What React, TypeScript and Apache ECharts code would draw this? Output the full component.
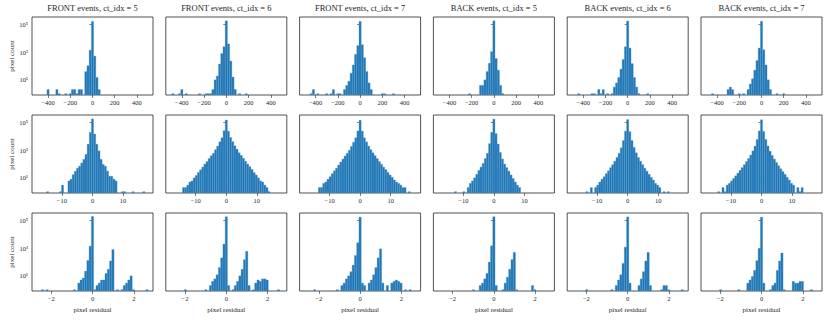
import React, { useEffect, useRef } from 'react';
import * as echarts from 'echarts';

// ---------------- data (bin centre, pixel count) ----------------
const panelTitles = [
  'FRONT events, ct_idx = 5',
  'FRONT events, ct_idx = 6',
  'FRONT events, ct_idx = 7',
  'BACK events, ct_idx = 5',
  'BACK events, ct_idx = 6',
  'BACK events, ct_idx = 7',
];

const binWidths = [20, 0.7, 0.11];
const xRanges = [[-544, 544], [-19.8, 19.8], [-2.93, 2.93]];
const xTicks = [[-400, -200, 0, 200, 400], [-10, 0, 10], [-2, 0, 2]];
const yRange = [0.8, 355000];
const yTicks = [10, 1000, 100000];

// row 1
const r1Front5 = [[-400,2],[-320,2],[-300,1],[-240,1],[-200,1],[-180,2],[-160,2],[-140,1],[-120,2],[-100,2],[-60,39],[-40,105],[-20,1400],[0,170000],[20,525],[40,15],[60,2]];
const r1Front6 = [[-480,1],[-420,1],[-400,2],[-360,1],[-240,1],[-180,1],[-160,1],[-140,1],[-120,2],[-100,10],[-80,19],[-60,140],[-40,800],[-20,2500],[0,186000],[20,4000],[40,230],[60,16],[80,2],[120,1],[180,1]];
const r1Front7 = [[-440,1],[-420,2],[-380,1],[-300,1],[-260,1],[-240,2],[-200,1],[-180,1],[-140,2],[-120,4],[-100,8],[-80,30],[-60,120],[-40,700],[-20,3000],[0,170000],[20,3500],[40,400],[60,40],[80,6],[100,2],[200,1],[220,1],[300,1]];
const r1Back5 = [[-220,1],[-120,4],[-100,4],[-80,10],[-60,40],[-40,160],[-20,1100],[0,186000],[20,350],[40,50],[60,4],[80,1]];
const r1Back6 = [[-440,1],[-320,1],[-300,1],[-260,2],[-240,1],[-220,2],[-180,1],[-140,1],[-120,3],[-100,6],[-80,15],[-60,60],[-40,300],[-20,2500],[0,180000],[20,2000],[40,150],[60,15],[80,3],[100,1],[180,1]];
const r1Back7 = [[-440,1],[-300,2],[-280,3],[-260,2],[-200,1],[-160,1],[-120,2],[-100,5],[-80,12],[-60,50],[-40,250],[-20,2000],[0,175000],[20,1500],[40,120],[60,10],[80,2],[140,1],[200,1]];

// row 2
const r2Front5 = [[-14.7,1],[-10.5,1],[-9.8,3],[-7.7,6],[-7.0,8],[-6.3,17],[-5.6,30],[-4.9,50],[-4.2,70],[-3.5,120],[-2.8,220],[-2.1,500],[-1.4,2750],[-0.7,19500],[0,186000],[0.7,15000],[1.4,2750],[2.1,900],[2.8,220],[3.5,93],[4.2,70],[4.9,31],[5.6,13],[6.3,13],[7.0,8],[7.7,6],[9.8,1],[10.5,1],[13.3,1],[16.8,1]];
const r2Front6 = [[-14.0,2],[-13.3,2],[-12.6,3],[-11.9,5],[-11.2,6],[-10.5,10],[-9.8,15],[-9.1,25],[-8.4,38],[-7.7,60],[-7.0,100],[-6.3,150],[-5.6,250],[-4.9,400],[-4.2,600],[-3.5,1100],[-2.8,2000],[-2.1,4000],[-1.4,8000],[-0.7,26000],[0,155000],[0.7,24000],[1.4,8500],[2.1,4200],[2.8,2100],[3.5,1200],[4.2,650],[4.9,420],[5.6,260],[6.3,160],[7.0,100],[7.7,65],[8.4,40],[9.1,24],[9.8,16],[10.5,10],[11.2,6],[11.9,5],[12.6,3],[13.3,2],[14.0,1]];
const r2Front7 = [[-13.3,2],[-12.6,2],[-11.9,4],[-11.2,5],[-10.5,8],[-9.8,12],[-9.1,20],[-8.4,32],[-7.7,50],[-7.0,85],[-6.3,140],[-5.6,230],[-4.9,380],[-4.2,600],[-3.5,1000],[-2.8,1900],[-2.1,3800],[-1.4,8000],[-0.7,25000],[0,150000],[0.7,24000],[1.4,8000],[2.1,4000],[2.8,2000],[3.5,1100],[4.2,650],[4.9,400],[5.6,250],[6.3,150],[7.0,95],[7.7,60],[8.4,40],[9.1,25],[9.8,16],[10.5,11],[11.2,7],[11.9,5],[12.6,4],[13.3,3],[14.0,2],[14.7,2],[16.1,1]];
const r2Back5 = [[-12.6,1],[-9.8,1],[-8.4,2],[-7.7,4],[-7.0,6],[-6.3,10],[-5.6,18],[-4.9,35],[-4.2,60],[-3.5,110],[-2.8,250],[-2.1,600],[-1.4,3000],[-0.7,20000],[0,180000],[0.7,16000],[1.4,2800],[2.1,700],[2.8,230],[3.5,100],[4.2,55],[4.9,30],[5.6,16],[6.3,9],[7.0,5],[7.7,3],[8.4,2]];
const r2Back6 = [[-13.3,1],[-11.9,2],[-10.5,2],[-9.8,3],[-9.1,5],[-8.4,8],[-7.7,12],[-7.0,20],[-6.3,32],[-5.6,55],[-4.9,90],[-4.2,160],[-3.5,300],[-2.8,600],[-2.1,1500],[-1.4,5000],[-0.7,24000],[0,165000],[0.7,22000],[1.4,5000],[2.1,1600],[2.8,650],[3.5,300],[4.2,160],[4.9,90],[5.6,50],[6.3,30],[7.0,18],[7.7,11],[8.4,7],[9.1,4],[9.8,3],[10.5,2],[11.9,1],[13.3,1]];
const r2Back7 = [[-14.0,1],[-12.6,2],[-11.9,1],[-11.2,3],[-10.5,4],[-9.8,6],[-9.1,9],[-8.4,14],[-7.7,22],[-7.0,35],[-6.3,55],[-5.6,90],[-4.9,150],[-4.2,250],[-3.5,450],[-2.8,900],[-2.1,2000],[-1.4,6000],[-0.7,25000],[0,160000],[0.7,23000],[1.4,6000],[2.1,2000],[2.8,850],[3.5,420],[4.2,230],[4.9,130],[5.6,75],[6.3,45],[7.0,28],[7.7,18],[8.4,11],[9.1,7],[9.8,4],[10.5,3],[11.9,2],[12.6,1],[13.3,2]];

// row 3
const r3Front5 = [[-2.42,1],[-2.2,1],[-0.88,1],[-0.66,3],[-0.55,5],[-0.44,7],[-0.33,22],[-0.22,130],[-0.11,1400],[0,200000],[0.11,1],[0.22,2],[0.33,3],[0.44,5],[0.55,5],[0.66,15],[0.77,30],[0.88,120],[0.99,800],[1.21,1],[1.43,1],[1.54,2],[1.65,3],[1.76,5],[1.87,10],[1.98,1],[2.64,1]];
const r3Front6 = [[-1.98,1],[-0.99,1],[-0.77,2],[-0.66,4],[-0.55,6],[-0.44,12],[-0.33,40],[-0.22,200],[-0.11,2000],[0,190000],[0.11,2],[0.33,1],[0.44,2],[0.55,4],[0.66,10],[0.77,30],[0.88,150],[0.99,600],[1.1,2],[1.32,1],[1.43,3],[1.54,5],[1.65,4],[1.76,6],[1.87,6],[1.98,5],[2.53,1]];
const r3Front7 = [[-2.2,1],[-1.1,1],[-0.88,2],[-0.77,3],[-0.66,6],[-0.55,10],[-0.44,20],[-0.33,60],[-0.22,300],[-0.11,2500],[0,180000],[0.11,3],[0.22,2],[0.44,3],[0.55,5],[0.66,12],[0.77,40],[0.88,200],[0.99,900],[1.1,3],[1.32,2],[1.54,3],[1.65,4],[1.76,5],[1.87,4],[1.98,3],[2.2,1],[2.42,1]];
const r3Back5 = [[-0.99,1],[-0.66,2],[-0.55,3],[-0.44,6],[-0.33,15],[-0.22,100],[-0.11,1500],[0,190000],[0.11,2],[0.44,1],[0.55,3],[0.66,8],[0.77,30],[0.88,150],[0.99,500],[1.1,1],[1.87,2],[1.98,1]];
const r3Back6 = [[-1.98,1],[-0.77,1],[-0.55,2],[-0.44,5],[-0.33,12],[-0.22,80],[-0.11,1200],[0,185000],[0.11,3],[0.55,2],[0.66,6],[0.77,20],[0.88,120],[0.99,500],[1.1,2],[1.65,1],[1.76,2],[1.87,2],[1.98,1],[2.64,1]];
const r3Back7 = [[-1.98,1],[-1.1,1],[-0.66,3],[-0.55,5],[-0.44,9],[-0.33,25],[-0.22,126],[-0.11,900],[0,178000],[0.11,3],[0.44,1],[0.55,2],[0.66,3],[0.77,25],[0.88,120],[0.99,450],[1.1,1],[1.54,4],[1.65,3],[1.76,3],[1.87,4],[1.98,4],[2.42,1]];

const panels = [
  [r1Front5, r1Front6, r1Front7, r1Back5, r1Back6, r1Back7],
  [r2Front5, r2Front6, r2Front7, r2Back5, r2Back6, r2Back7],
  [r3Front5, r3Front6, r3Front7, r3Back5, r3Back6, r3Back7],
];

// ---------------- layout ----------------
const colLefts = [32, 165.8, 299.6, 433.4, 567.2, 701];
const rowTops = [17, 115, 213];
const panelW = 121;
const panelH = 78;
const FONT = 'Liberation Serif';
const INK = '#262626';
const BAR = '#1f77b4';

const SUP: Record<string, string> = { '0': '\u2070', '1': '\u00b9', '2': '\u00b2', '3': '\u00b3', '4': '\u2074', '5': '\u2075', '6': '\u2076' };
const fmtX = (v: number) => (v < 0 ? '\u2212' + String(Math.abs(v)) : String(v));
const fmtY = (v: number) => '10' + SUP[String(Math.round(Math.log10(v)))];

export default function App() {
  const ref = useRef<HTMLDivElement>(null);
  useEffect(() => {
    if (!ref.current) return;
    const chart = echarts.init(ref.current, null, { renderer: 'svg' });
    const grid: any[] = [];
    const xAxis: any[] = [];
    const yAxis: any[] = [];
    const series: any[] = [];
    panels.forEach((row, r) => {
      row.forEach((data, c) => {
        const idx = grid.length;
        grid.push({
          left: colLefts[c], top: rowTops[r], width: panelW, height: panelH,
          show: true, borderColor: INK, borderWidth: 0.8, backgroundColor: 'transparent',
        });
        xAxis.push({
          type: 'value', gridIndex: idx, min: xRanges[r][0], max: xRanges[r][1],
          axisLine: { show: false },
          splitLine: { show: false },
          axisTick: { show: true, customValues: xTicks[r], length: 3, lineStyle: { color: INK, width: 0.6 } },
          axisLabel: { customValues: xTicks[r], formatter: fmtX, fontSize: 6.5, fontFamily: FONT, color: INK, margin: 3.5 },
          name: r === 2 ? 'pixel residual' : '', nameLocation: 'middle', nameGap: 15,
          nameTextStyle: { fontSize: 7, fontFamily: FONT, color: INK },
        });
        yAxis.push({
          type: 'log', logBase: 10, gridIndex: idx, min: yRange[0], max: yRange[1],
          axisLine: { show: false },
          splitLine: { show: false },
          minorTick: { show: false },
          axisTick: { show: true, customValues: yTicks, length: 3, lineStyle: { color: INK, width: 0.6 } },
          axisLabel: { show: c === 0, customValues: yTicks, formatter: fmtY, fontSize: 6.5, fontFamily: FONT, color: INK, margin: 4 },
          name: c === 0 ? 'pixel count' : '', nameLocation: 'middle', nameGap: 16, nameRotate: 90,
          nameTextStyle: { fontSize: 7, fontFamily: FONT, color: INK },
        });
        const w = binWidths[r];
        series.push({
          type: 'custom', xAxisIndex: idx, yAxisIndex: idx, data, clip: true,
          renderItem: (params: any, api: any) => {
            const x = api.value(0);
            const cnt = api.value(1);
            const p1 = api.coord([x - w / 2, cnt]);
            const p2 = api.coord([x + w / 2, cnt]);
            const b = api.coord([x, yRange[0]]);
            return {
              type: 'rect',
              shape: { x: p1[0], y: p1[1], width: p2[0] - p1[0], height: b[1] - p1[1] },
              style: { fill: BAR, stroke: '#5b9bd0', lineWidth: 0.35 },
            };
          },
        });
      });
    });
    const graphic = panelTitles.map((t, c) => ({
      type: 'text', x: colLefts[c] + panelW / 2, y: 8,
      style: { text: t, fontSize: 8.5, fontFamily: FONT, fill: INK, align: 'center', verticalAlign: 'middle' },
    }));
    chart.setOption({ animation: false, grid, xAxis, yAxis, series, graphic });
    return () => chart.dispose();
  }, []);
  return <div ref={ref} style={{ position: 'absolute', left: 0, top: 0, width: 831, height: 320 }} />;
}
